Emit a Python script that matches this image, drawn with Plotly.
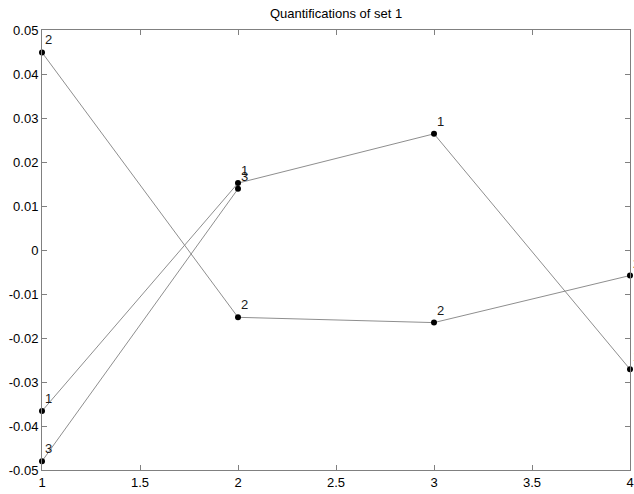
import plotly.graph_objects as go

# Category quantifications per variable (x = variable index)
set_names = ["1", "2", "3"]
x_vals = {
    "1": [1, 2, 3, 4],
    "2": [1, 2, 3, 4],
    "3": [1, 2],
}
y_vals = {
    "1": [-0.0366, 0.0152, 0.0264, -0.0271],
    "2": [0.0449, -0.0153, -0.0165, -0.0058],
    "3": [-0.0480, 0.0139],
}
x_ticks = [1, 1.5, 2, 2.5, 3, 3.5, 4]
y_ticks = [-0.05, -0.04, -0.03, -0.02, -0.01, 0, 0.01, 0.02, 0.03, 0.04, 0.05]
y_tick_text = ["-0.05", "-0.04", "-0.03", "-0.02", "-0.01", "0",
               "0.01", "0.02", "0.03", "0.04", "0.05"]

fig = go.Figure()
for name in set_names:
    fig.add_trace(go.Scatter(
        x=x_vals[name], y=y_vals[name], mode="lines+markers",
        line=dict(color="#8e8e8e", width=1),
        marker=dict(color="black", size=6),
        cliponaxis=False, showlegend=False, hoverinfo="x+y",
    ))
    for xv, yv in zip(x_vals[name], y_vals[name]):
        fig.add_annotation(
            x=xv, y=yv, text=name, showarrow=False,
            xanchor="left", yanchor="bottom", xshift=1, yshift=3,
            font=dict(family="Liberation Sans, Arial", size=13, color="#1a1a1a"),
        )

axis_common = dict(
    showgrid=False, zeroline=False, showline=True, linecolor="#808080",
    linewidth=1, mirror="ticks", ticks="inside", ticklen=5, automargin=False,
    tickcolor="#808080", tickfont=dict(family="Liberation Sans, Arial", size=13, color="black"),
)
fig.update_xaxes(range=[1, 4], tickvals=x_ticks,
                 ticktext=[f"{t:g}" for t in x_ticks], **axis_common)
fig.update_yaxes(range=[-0.05, 0.05], tickvals=y_ticks, ticktext=y_tick_text,
                 **axis_common)

fig.update_layout(
    width=634, height=494,
    margin=dict(l=42, r=4, t=30, b=24, autoexpand=False),
    plot_bgcolor="white", paper_bgcolor="white",
    title=dict(text="Quantifications of set 1", x=0.53, xanchor="center",
               y=0.972, yanchor="middle",
               font=dict(family="Liberation Sans, Arial", size=13, color="black")),
)

fig.write_html("out.html")
